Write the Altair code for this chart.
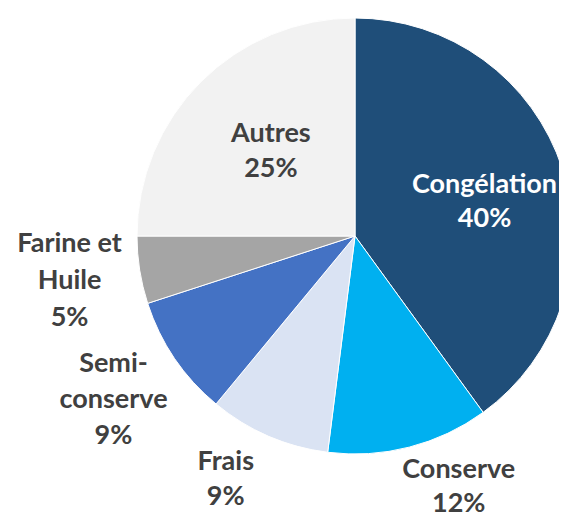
import altair as alt
import pandas as pd

categories = ["Congélation", "Conserve", "Frais", "Semi-conserve", "Farine et Huile", "Autres"]
label_lines = ["Congélation", "Conserve", "Frais", "Semi-\nconserve", "Farine et\nHuile", "Autres"]
values = [40, 12, 9, 9, 5, 25]
colors = ["#1F4E79", "#00B0F0", "#DAE3F3", "#4472C4", "#A5A5A5", "#F2F2F2"]

df = pd.DataFrame({
    "cat": categories,
    "lines": label_lines,
    "value": values,
    "idx": list(range(len(categories))),
})

CX, CY, R = 347, 228, 218

base = alt.Chart(df)

pie = base.mark_arc(outerRadius=R, stroke="white", strokeWidth=1).encode(
    theta=alt.Theta("value:Q", stack=True),
    color=alt.Color("cat:N", scale=alt.Scale(domain=categories, range=colors), legend=None),
    order=alt.Order("idx:Q"),
    x=alt.value(CX),
    y=alt.value(CY),
)

tbase = (
    base.transform_window(cum="sum(value)", sort=[alt.SortField("idx")], frame=[None, 0])
    .transform_joinaggregate(total="sum(value)")
    .transform_calculate(
        mid="(datum.cum - datum.value/2)/datum.total*2*PI",
        label="datum.lines + '\\n' + datum.value + '%'",
    )
)


def text_layer(names, radius, color, offset=0.0, lh=35, nlines=2):
    return tbase.transform_filter(
        alt.FieldOneOfPredicate(field="cat", oneOf=names)
    ).mark_text(
        radius=radius,
        thetaOffset=offset,
        font="Lato",
        fontWeight="bold",
        fontSize=27,
        lineBreak="\n",
        lineHeight=lh,
        align="center",
        baseline="middle",
        dy=-(nlines - 1) * lh / 2,
        color=color,
    ).encode(
        theta=alt.Theta("mid:Q", scale=None, stack=False),
        text="label:N",
        x=alt.value(CX),
        y=alt.value(CY),
    )


layers = [
    pie,
    text_layer(["Congélation"], 134, "white", 0.055, 34, 2),
    text_layer(["Autres"], 119, "#404040", 0.0, 35, 2),
    text_layer(["Conserve"], 272, "#404040", -0.14, 34, 2),
    text_layer(["Frais"], 276, "#404040", 0.079, 35, 2),
    text_layer(["Semi-conserve"], 292, "#404040", 0.0, 36, 3),
    text_layer(["Farine et Huile"], 289, "#404040", 0.0, 37, 3),
]

chart = alt.layer(*layers).properties(
    width=551, height=509, padding=0, autosize=alt.AutoSizeParams(type="none")
).configure_view(stroke=None)

chart.save("out.html", embed_options={"renderer": "svg", "actions": False})
